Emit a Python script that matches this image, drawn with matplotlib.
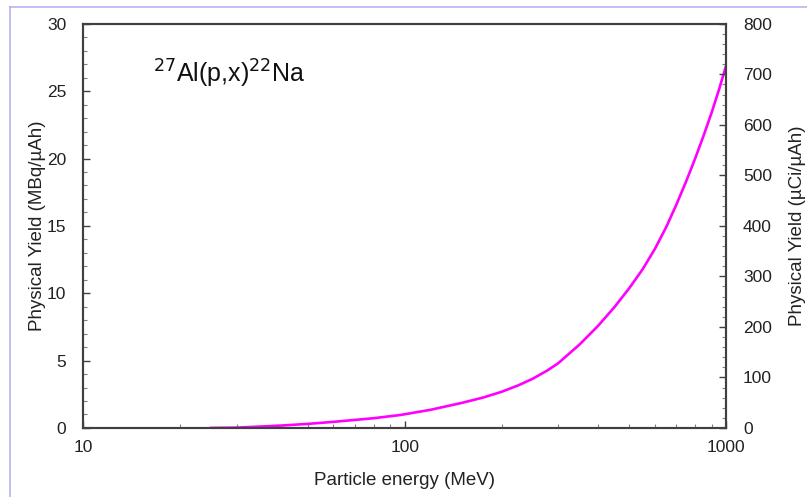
import numpy as np
import matplotlib.pyplot as plt
from matplotlib.lines import Line2D
from matplotlib.ticker import MultipleLocator, FixedLocator, NullFormatter

# data
energy_mev = [25, 30, 41, 50, 60, 80, 97, 120, 150, 175, 200, 225, 250, 277,
              300, 350, 400, 450, 500, 550, 600, 650, 700, 750, 800, 850,
              900, 950, 1000]
yield_mbq = [0, 0.02, 0.17, 0.3, 0.45, 0.72, 0.96, 1.34, 1.85, 2.25, 2.68,
             3.15, 3.65, 4.25, 4.8, 6.2, 7.6, 9.0, 10.4, 11.8, 13.3, 14.9,
             16.6, 18.3, 20.0, 21.7, 23.4, 25.15, 26.95]

x_ticks = [10, 100, 1000]
left_ticks = [0, 5, 10, 15, 20, 25, 30]
right_ticks = [0, 100, 200, 300, 400, 500, 600, 700, 800]

plt.rcParams['font.family'] = ['Liberation Sans', 'DejaVu Sans']
dark = '#404040'
txt = '#222222'

fig = plt.figure(figsize=(8.07, 4.97), dpi=100)
ax = fig.add_axes([0.103, 0.139, 0.797, 0.813])

ax.plot(energy_mev, yield_mbq, color='#ff00ff', lw=1.9)

ax.set_xscale('log')
ax.set_xlim(10, 1000)
ax.set_ylim(0, 30)
ax.xaxis.set_major_locator(FixedLocator(x_ticks))
ax.set_xticklabels([str(t) for t in x_ticks])
ax.xaxis.set_minor_locator(FixedLocator(
    [m * d for d in (10, 100) for m in range(2, 10)]))
ax.xaxis.set_minor_formatter(NullFormatter())
ax.yaxis.set_major_locator(FixedLocator(left_ticks))
ax.yaxis.set_minor_locator(MultipleLocator(1))

ax2 = ax.twinx()
ax2.set_ylim(0, 800)
ax2.yaxis.set_major_locator(FixedLocator(right_ticks))
ax2.yaxis.set_minor_locator(MultipleLocator(20))

for a in (ax, ax2):
    for s in a.spines.values():
        s.set_color(dark)
        s.set_linewidth(1.5)
    a.tick_params(which='major', direction='in', length=5, width=1,
                  color=dark, labelsize=12.5, labelcolor=txt)
    a.tick_params(which='minor', direction='in', length=3, width=0.8, color='#808080')
ax.tick_params(axis='x', pad=9)
ax.tick_params(axis='y', pad=12)
ax2.tick_params(axis='y', pad=12)

ax.set_xlabel('Particle energy (MeV)', fontsize=13.5, color=txt, labelpad=12)
ax.set_ylabel('Physical Yield (MBq/µAh)', fontsize=13.5, color=txt, labelpad=1)
ax2.set_ylabel('Physical Yield (µCi/µAh)', fontsize=13.5, color=txt, labelpad=12)

ax.text(0.108, 0.875, r'$^{27}$Al(p,x)$^{22}$Na', transform=ax.transAxes,
        fontsize=18, color='#111111', va='center', ha='left')

# light frame lines along top and left of the picture
fig.add_artist(Line2D([10 / 807, 1], [1 - 7 / 497, 1 - 7 / 497],
                      transform=fig.transFigure, color='#b4b4f4', lw=1.2))
fig.add_artist(Line2D([10 / 807, 10 / 807], [0, 1 - 7 / 497],
                      transform=fig.transFigure, color='#b4b4f4', lw=1.2))

fig.savefig('out.png', dpi=100)
